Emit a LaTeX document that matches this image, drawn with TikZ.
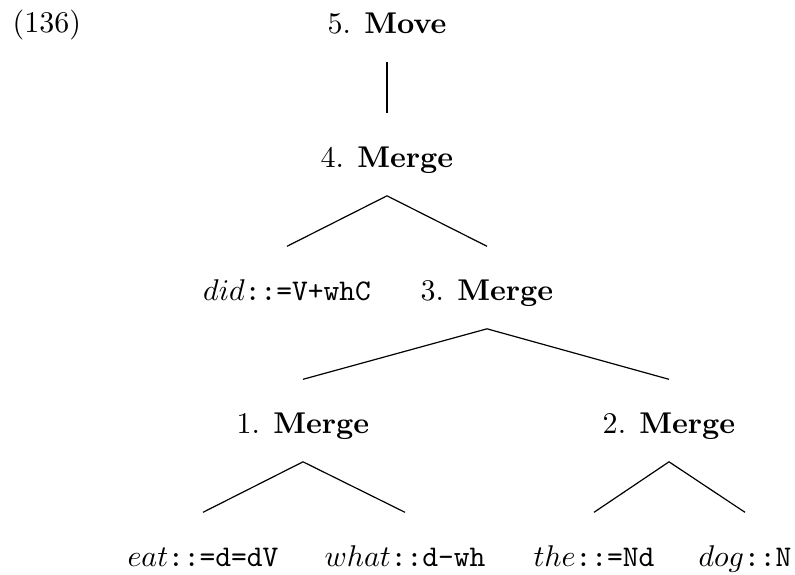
\documentclass[tikz,border=0pt]{standalone}
\begin{document}
\begin{tikzpicture}[x=0.3333pt,y=-0.3333pt,
  lbl/.style={anchor=base, inner sep=0pt, text height=17.7pt, text depth=9.4pt},
  branch/.style={line width=0.4pt}]
\useasboundingbox (0,0) rectangle (795,574);
\node[anchor=base west, inner sep=0pt] (ex) at (12,32) {(136)};
\node[lbl] (move) at (387,33) {5. \textbf{Move}};
\node[lbl] (m4) at (387,167) {4. \textbf{Merge}};
\node[lbl] (did) at (287,300) {$did$\texttt{::=V+whC}};
\node[lbl] (m3) at (487,300) {3. \textbf{Merge}};
\node[lbl] (m1) at (303,433) {1. \textbf{Merge}};
\node[lbl] (m2) at (669,433) {2. \textbf{Merge}};
\node[lbl] (eat) at (203,566) {$eat$\texttt{::=d=dV}};
\node[lbl] (what) at (405,566) {$what$\texttt{::d-wh}};
\node[lbl] (the) at (594,566) {$the$\texttt{::=Nd}};
\node[lbl] (dog) at (745,566) {$dog$\texttt{::N}};
\draw[branch] (move.south) -- (m4.north);
\draw[branch] (did.north) -- (m4.south) -- (m3.north);
\draw[branch] (m1.north) -- (m3.south) -- (m2.north);
\draw[branch] (eat.north) -- (m1.south) -- (what.north);
\draw[branch] (the.north) -- (m2.south) -- (dog.north);
\end{tikzpicture}
\end{document}
